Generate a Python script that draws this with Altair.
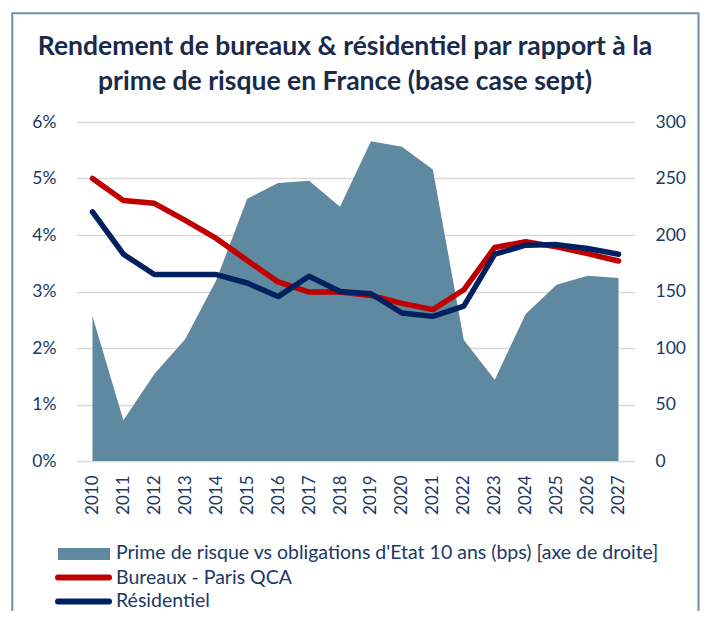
import altair as alt
import pandas as pd

years = [str(y) for y in range(2010, 2028)]
prime_bps = [128, 36, 77, 108, 160, 232, 246, 248, 225, 283, 278, 258, 107, 72, 130, 156, 164, 162]
bureaux = [5.00, 4.61, 4.56, 4.26, 3.94, 3.55, 3.17, 2.99, 2.99, 2.93, 2.79, 2.68, 3.03, 3.78, 3.88, 3.79, 3.67, 3.54]
residentiel = [4.41, 3.66, 3.30, 3.30, 3.30, 3.15, 2.91, 3.27, 3.00, 2.96, 2.62, 2.56, 2.74, 3.66, 3.82, 3.83, 3.76, 3.66]

series_names = ["Bureaux - Paris QCA", "Résidentiel"]
series_colors = ["#C00000", "#002060"]
area_name = "Prime de risque vs obligations d'Etat 10 ans (bps) [axe de droite]"
area_color = "#5F88A1"
title_lines = ["Rendement de bureaux & résidentiel par rapport à la",
               "prime de risque en France (base case sept)"]

TXT = "#203864"
FONT = "Lato"

df_area = pd.DataFrame({"year": years, "bps": prime_bps})
rows = []
for name, vals in zip(series_names, [bureaux, residentiel]):
    for y, v in zip(years, vals):
        rows.append({"year": y, "series": name, "rate": v / 100})
df_lines = pd.DataFrame(rows)

xenc = alt.X("year:O", scale=alt.Scale(padding=0.5),
             axis=alt.Axis(title=None, labelAngle=270, domain=False, ticks=False,
                           labelPadding=14, labelFontSize=17, labelColor=TXT, labelFont=FONT,
                           grid=False))

area = alt.Chart(df_area).mark_area(color=area_color, opacity=1).encode(
    x=xenc,
    y=alt.Y("bps:Q", scale=alt.Scale(domain=[0, 300]),
            axis=alt.Axis(orient="right", title=None, values=[0, 50, 100, 150, 200, 250, 300],
                          domain=False, ticks=False, grid=False, labelPadding=21,
                          labelFontSize=17.5, labelColor=TXT, labelFont=FONT)),
)

lines = alt.Chart(df_lines).mark_line(strokeWidth=5.5, strokeCap="round", strokeJoin="round").encode(
    x=xenc,
    y=alt.Y("rate:Q", scale=alt.Scale(domain=[0, 0.06]),
            axis=alt.Axis(orient="left", title=None, format=".0%",
                          values=[0, 0.01, 0.02, 0.03, 0.04, 0.05, 0.06],
                          domain=False, ticks=False, grid=True, gridColor="#D9D9D9",
                          gridWidth=1.5, labelPadding=21,
                          labelFontSize=17.5, labelColor=TXT, labelFont=FONT)),
    color=alt.Color("series:N", scale=alt.Scale(domain=series_names, range=series_colors),
                    legend=None),
)

one = alt.Data(values=[{"k": 1}])

frame = alt.Chart(one).mark_rect(fillOpacity=0, stroke="#6F91AB", strokeWidth=2).encode(
    x=alt.value(-64.7), x2=alt.value(621.5), y=alt.value(-108.7), y2=alt.value(700))

title1 = alt.Chart(one).mark_text(font=FONT, fontSize=26.5, fontWeight="bold", color="#1a2a4a",
                                  align="center", baseline="middle").encode(
    x=alt.value(268), y=alt.value(-75), text=alt.value(title_lines[0]))
title2 = alt.Chart(one).mark_text(font=FONT, fontSize=26.5, fontWeight="bold", color="#1a2a4a",
                                  align="center", baseline="middle").encode(
    x=alt.value(268), y=alt.value(-40), text=alt.value(title_lines[1]))

leg_rect = alt.Chart(one).mark_rect(color=area_color).encode(
    x=alt.value(-19), x2=alt.value(33), y=alt.value(426), y2=alt.value(438))
leg_red = alt.Chart(one).mark_rule(color=series_colors[0], strokeWidth=6, strokeCap="round").encode(
    x=alt.value(-19), x2=alt.value(32), y=alt.value(455.5))
leg_blue = alt.Chart(one).mark_rule(color=series_colors[1], strokeWidth=6, strokeCap="round").encode(
    x=alt.value(-19), x2=alt.value(32), y=alt.value(479.5))

def leg_text(t, y):
    return alt.Chart(one).mark_text(font=FONT, fontSize=19.5, color=TXT, align="left",
                                    baseline="middle").encode(
        x=alt.value(39), y=alt.value(y), text=alt.value(t))

chart = alt.layer(
    frame, area, lines, title1, title2,
    leg_rect, leg_red, leg_blue,
    leg_text(area_name, 431), leg_text(series_names[0], 455.5), leg_text(series_names[1], 478.5),
).resolve_scale(y="independent").properties(
    width=557, height=339,
    autosize=alt.AutoSizeParams(type="none"),
    padding={"left": 69, "top": 114, "right": 66, "bottom": 150},
    background="white",
).configure_view(stroke=None)

chart.save("out.html", embed_options={"renderer": "svg", "actions": False})
